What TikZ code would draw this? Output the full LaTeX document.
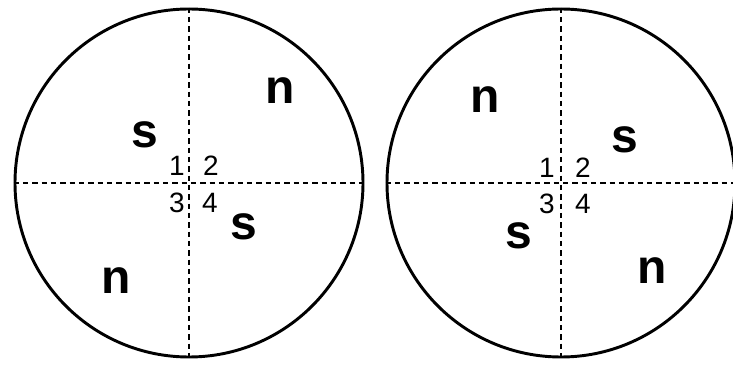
\documentclass[tikz,border=0pt]{standalone}
\usepackage{fontspec}
\setmainfont{Liberation Sans}
\usetikzlibrary{positioning}

\begin{document}
\begin{tikzpicture}[x=0.75pt, y=-0.75pt,
    disc/.style={draw, circle, line width=2.2pt, minimum size=348*0.75pt, inner sep=0pt},
    axis/.style={dashed, line width=0.9pt, dash pattern=on 4pt off 3pt},
    pole/.style={inner sep=0pt, font=\fontsize{36}{36}\selectfont\bfseries},
    num/.style={inner sep=0pt, font=\fontsize{21}{21}\selectfont}]
    \useasboundingbox (0,0) rectangle (733,367);

    % left field
    \node[disc] (left) at (189, 183) {};
    \draw[axis] (left.north) -- (left.south);
    \draw[axis] (left.west) -- (left.east);
    \node[pole] (ls1) at (145, 135) {s};
    \node[pole] (ln1) at (280, 91) {n};
    \node[pole] (ls2) at (244, 227) {s};
    \node[pole] (ln2) at (116, 281) {n};
    \node[num] (lq1) at (177, 166) {1};
    \node[num] (lq2) at (211, 166) {2};
    \node[num] (lq3) at (177, 203) {3};
    \node[num] (lq4) at (210, 203) {4};

    % right field
    \node[disc] (right) at (561, 183) {};
    \draw[axis] (right.north) -- (right.south);
    \draw[axis] (right.west) -- (right.east);
    \node[pole] (rn1) at (485, 100) {n};
    \node[pole] (rs1) at (625, 140) {s};
    \node[pole] (rs2) at (519, 236) {s};
    \node[pole] (rn2) at (652, 271) {n};
    \node[num] (rq1) at (547, 168) {1};
    \node[num] (rq2) at (583, 168) {2};
    \node[num] (rq3) at (547, 204) {3};
    \node[num] (rq4) at (583, 204) {4};
\end{tikzpicture}
\end{document}
